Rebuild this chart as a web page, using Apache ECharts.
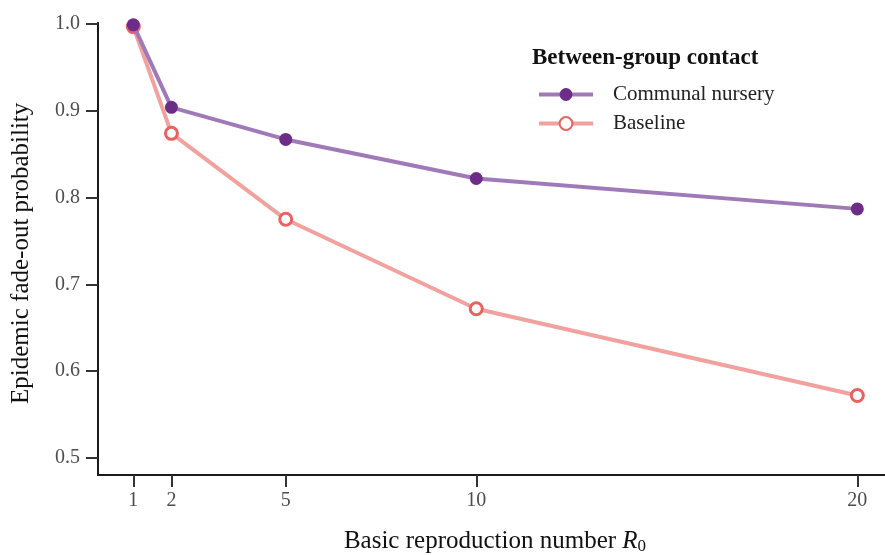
<!DOCTYPE html>
<html>
<head>
<meta charset="utf-8">
<script src="https://cdn.jsdelivr.net/npm/echarts@6/dist/echarts.min.js"></script>
<style>
  html, body { margin: 0; padding: 0; background: #fff; }
  #chart { width: 885px; height: 555px; }
</style>
</head>
<body>
<div id="chart"></div>
<script>
// R0 values on the x axis
const r0Values = [1, 2, 5, 10, 20]
const xTicks = [1, 2, 5, 10, 20]
const yTicks = [0.5, 0.6, 0.7, 0.8, 0.9, 1.0]

// fade-out probabilities
const communalNursery = [0.999, 0.904, 0.867, 0.822, 0.787]
const baseline = [0.997, 0.874, 0.775, 0.672, 0.572]

const seriesNames = ['Communal nursery', 'Baseline']

const font = "'Liberation Serif', 'DejaVu Serif', serif"

const toPairs = (xs, ys) => xs.map((x, i) => [x, ys[i]])

const chart = echarts.init(document.getElementById('chart'))

chart.setOption({
  backgroundColor: '#fff',
  animation: false,
  title: {
    text: 'Between-group contact',
    left: 527,
    top: 42,
    textStyle: { fontFamily: font, fontWeight: 'bold', fontSize: 23, color: '#111' }
  },
  legend: {
    orient: 'vertical',
    left: 532,
    top: 79,
    itemWidth: 54,
    itemHeight: 16,
    itemGap: 8,
    data: seriesNames,
    lineStyle: { width: 4 },
    textStyle: { fontFamily: font, fontSize: 21, color: '#222', padding: [0, 0, 0, 15] }
  },
  grid: {
    left: 98,
    right: 0,
    top: 22.7,
    bottom: 80,
    outerBoundsMode: 'none'
  },
  xAxis: {
    type: 'value',
    min: 0.073,
    max: 20.727,
    axisLine: { lineStyle: { color: '#1a1a1a', width: 2 } },
    axisTick: { length: 12, customValues: xTicks, lineStyle: { color: '#333', width: 2 } },
    axisLabel: { customValues: xTicks, margin: 16, fontFamily: font, fontSize: 20, color: '#4d4d4d' },
    splitLine: { show: false },
    name: '{t|Basic reproduction number }{r|R}{s|0}',
    nameLocation: 'middle',
    nameGap: 51,
    nameTextStyle: {
      padding: [0, 0, 0, 7],
      rich: {
        t: { fontFamily: font, fontSize: 25, color: '#111', lineHeight: 30 },
        r: { fontFamily: font, fontSize: 25, fontStyle: 'italic', color: '#111', lineHeight: 30 },
        s: { fontFamily: font, fontSize: 17, color: '#111', lineHeight: 30, padding: [12, 0, 0, 0] }
      }
    }
  },
  yAxis: {
    type: 'value',
    min: 0.4804,
    max: 1.0015,
    axisLine: { show: true, lineStyle: { color: '#1a1a1a', width: 2 } },
    axisTick: { show: true, length: 12, customValues: yTicks, lineStyle: { color: '#333', width: 2 } },
    axisLabel: {
      customValues: yTicks,
      margin: 18,
      fontFamily: font,
      fontSize: 20,
      color: '#4d4d4d',
      formatter: v => v.toFixed(1)
    },
    splitLine: { show: false },
    name: 'Epidemic fade-out probability',
    nameLocation: 'middle',
    nameGap: 64,
    nameTextStyle: { fontFamily: font, fontSize: 25, color: '#111', padding: [0, 9, 0, 0] }
  },
  series: [
    {
      name: seriesNames[0],
      type: 'line',
      data: toPairs(r0Values, communalNursery),
      clip: false,
      symbol: 'circle',
      symbolSize: 13,
      z: 3,
      lineStyle: { color: '#a07ab8', width: 4 },
      itemStyle: { color: '#6c2c88', borderWidth: 0 }
    },
    {
      name: seriesNames[1],
      type: 'line',
      data: toPairs(r0Values, baseline),
      clip: false,
      symbol: 'circle',
      symbolSize: 12,
      z: 2,
      lineStyle: { color: '#f2a29e', width: 4 },
      itemStyle: { color: '#fff', borderColor: '#e8625f', borderWidth: 3 }
    }
  ]
})
</script>
</body>
</html>
